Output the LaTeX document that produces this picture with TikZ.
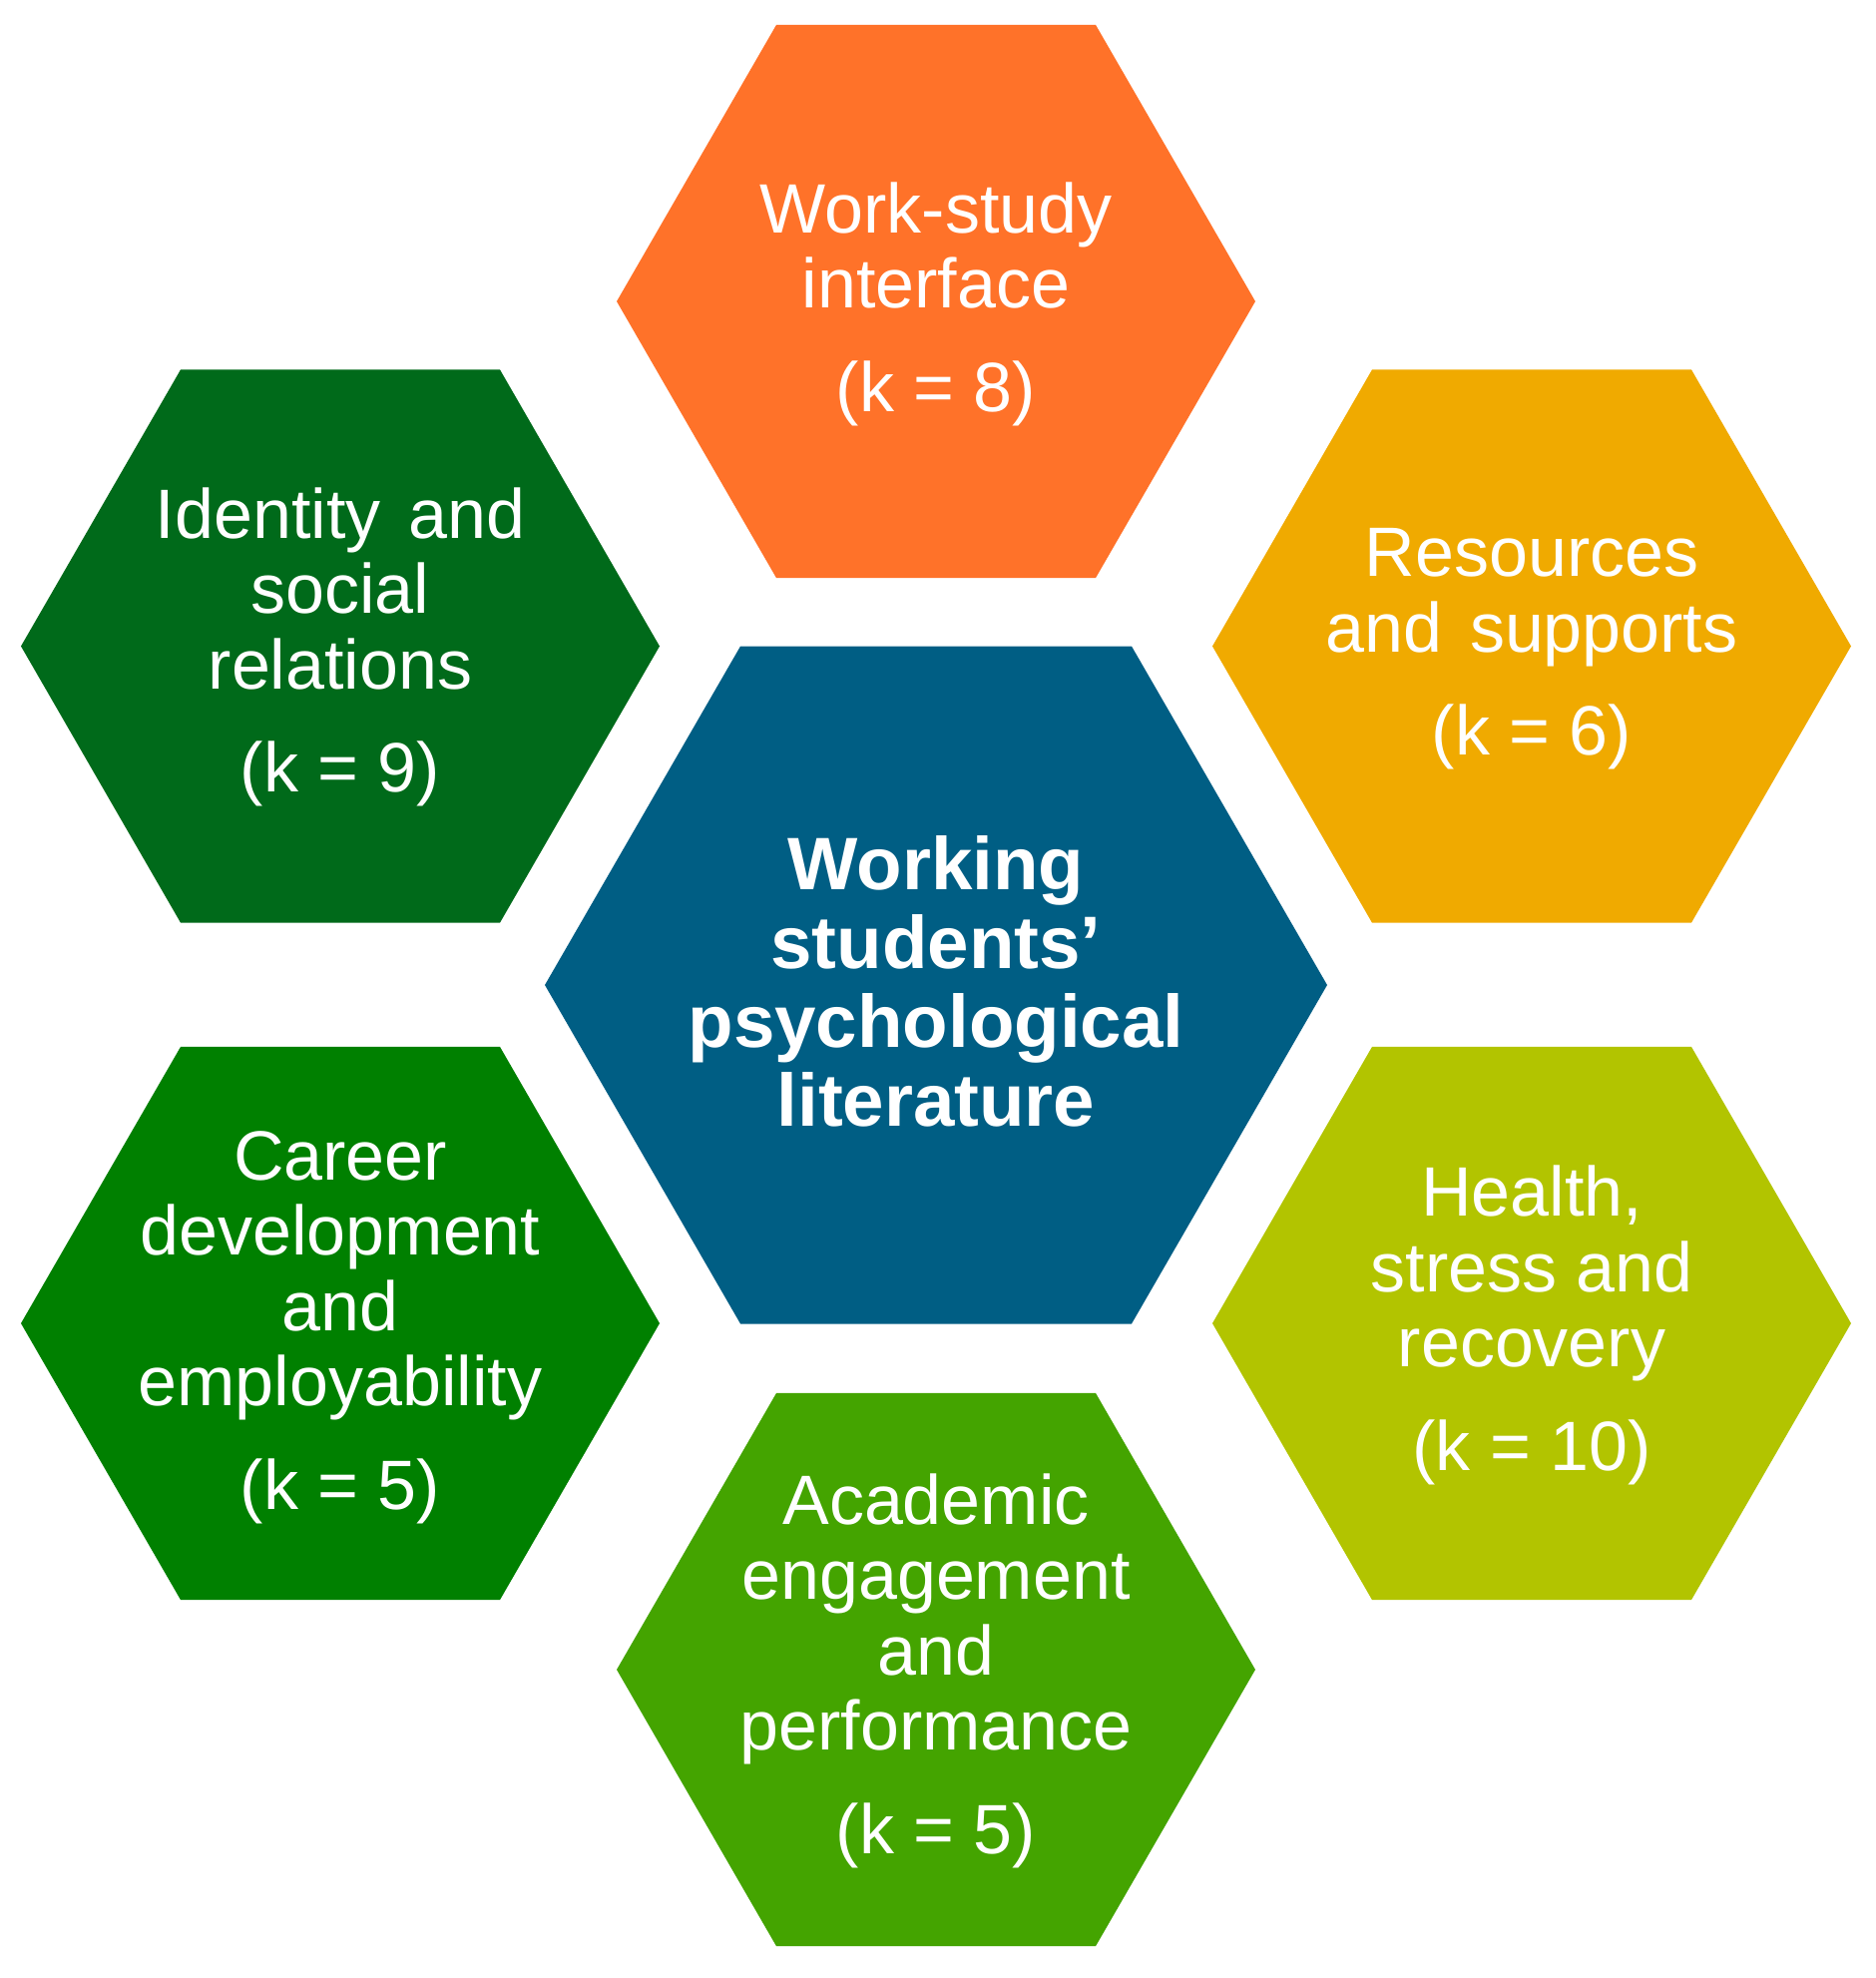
\documentclass[tikz,border=0pt]{standalone}
\usepackage{fontspec}
\setmainfont{Liberation Sans}
\usetikzlibrary{shapes.geometric}
\definecolor{cOrange}{RGB}{255,114,41}
\definecolor{cDark}{RGB}{0,106,26}
\definecolor{cBlue}{RGB}{0,94,132}
\definecolor{cAmber}{RGB}{240,170,0}
\definecolor{cGreen}{RGB}{0,128,0}
\definecolor{cLime}{RGB}{178,196,0}
\definecolor{cLeaf}{RGB}{68,164,0}
\tikzset{
  hexo/.style={regular polygon, regular polygon sides=6, minimum size=640pt, inner sep=0pt, outer sep=0pt, draw=none},
  hexc/.style={regular polygon, regular polygon sides=6, minimum size=784pt, inner sep=0pt, outer sep=0pt, draw=none},
  lbl/.style={text=white, align=center, inner sep=0pt, font=\fontsize{70}{75.5}\selectfont},
  clbl/.style={text=white, align=center, inner sep=0pt, font=\fontsize{74.5}{79}\selectfont\bfseries}
}
\begin{document}
\begin{tikzpicture}[x=1pt,y=-1pt]
\useasboundingbox (0,0) rectangle (1880,1982);
\node[hexo, fill=cOrange] (work) at (938,302) {};
\node[hexo, fill=cDark] (ident) at (341,647.5) {};
\node[hexo, fill=cAmber] (res) at (1535,647.5) {};
\node[hexc, fill=cBlue] (core) at (938,987) {};
\node[hexo, fill=cGreen] (career) at (341,1326) {};
\node[hexo, fill=cLime] (health) at (1535,1326) {};
\node[hexo, fill=cLeaf] (acad) at (938,1673) {};

\node[lbl] (tWork) at ([yshift=-2.5]work.center) {Work-study\\interface\\[28pt](k = 8)};
\node[lbl] (tIdent) at ([yshift=-1]ident.center) {Identity\hspace{0.12em} and\\social\\relations\\[28pt](k = 9)};
\node[lbl] (tRes) at ([yshift=-3]res.center) {Resources\\and\hspace{0.12em} supports\\[28pt](k = 6)};
\node[clbl] (tCore) at ([yshift=4]core.center) {Working\\students’\\psychological\\literature};
\node[lbl] (tCareer) at ([yshift=-4]career.center) {Career\\development\\and\\employability\\[28pt](k = 5)};
\node[lbl] (tHealth) at ([yshift=-2]health.center) {Health,\\stress and\\recovery\\[28pt](k = 10)};
\node[lbl] (tAcad) at ([yshift=-1]acad.center) {Academic\\engagement\\and\\performance\\[28pt](k = 5)};
\end{tikzpicture}
\end{document}
